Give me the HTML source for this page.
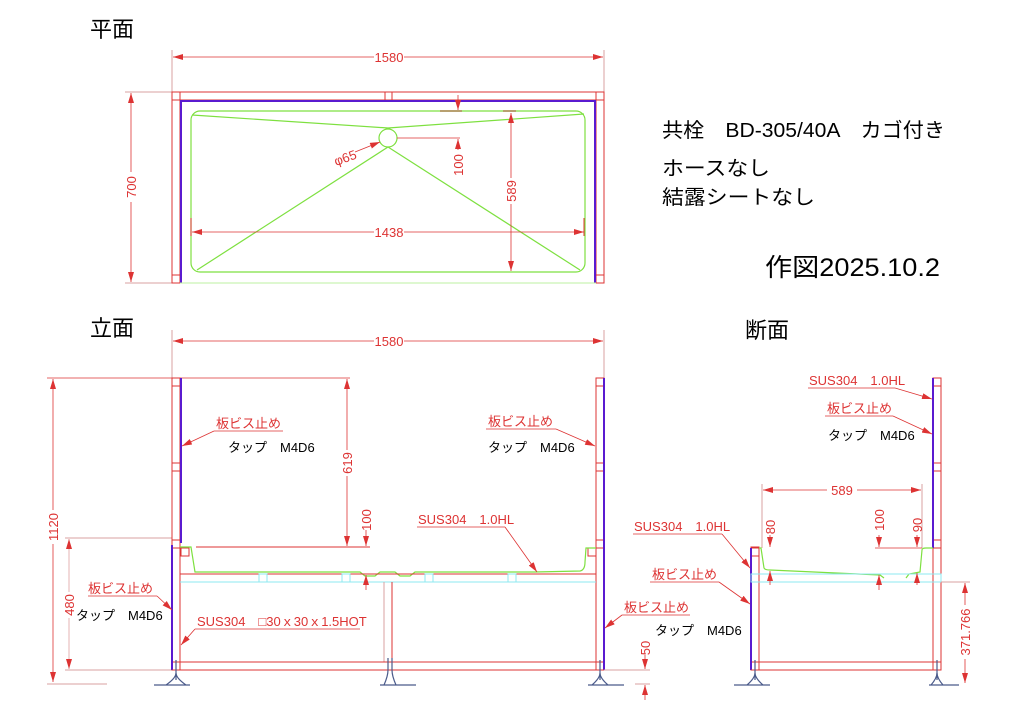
<!DOCTYPE html>
<html><head><meta charset="utf-8"><style>
html,body{margin:0;padding:0;background:#fff}
svg{display:block}
text{font-family:"Liberation Sans","Noto Sans CJK JP",sans-serif}
.r{stroke:#d33;fill:none;stroke-width:1}
.p{stroke:#d9a0a0;fill:none;stroke-width:1}
.d{stroke:#d33;stroke-width:0.8;fill:none}
.g{stroke:#7ee040;fill:none;stroke-width:1.2}
.pu{stroke:#5a1ad0;stroke-width:2;fill:none}
.c{stroke:#8ee8f0;fill:none;stroke-width:1}
.t{fill:#d33;font-size:13px}
.k{fill:#000;font-size:13px}
.b{stroke:#4a5a8a;fill:none;stroke-width:1.2}
</style></head><body>
<svg width="1012" height="715" viewBox="0 0 1012 715" xmlns="http://www.w3.org/2000/svg">
<defs><marker id="a" viewBox="0 0 10 6" refX="10" refY="3" markerWidth="10" markerHeight="6" orient="auto-start-reverse" markerUnits="userSpaceOnUse"><path d="M0,0L10,3L0,6z" fill="#d33"/></marker></defs>

<!-- titles -->
<text x="90" y="37" font-size="22" fill="#000">平面</text>
<text x="90" y="336" font-size="22" fill="#000">立面</text>
<text x="745" y="338" font-size="22" fill="#000">断面</text>
<text x="662" y="137" font-size="20" fill="#000" textLength="283" lengthAdjust="spacingAndGlyphs">共栓　BD-305/40A　カゴ付き</text>
<text x="662" y="175" font-size="20" fill="#000" textLength="108" lengthAdjust="spacingAndGlyphs">ホースなし</text>
<text x="662" y="204" font-size="20" fill="#000" textLength="153" lengthAdjust="spacingAndGlyphs">結露シートなし</text>
<text x="765" y="276" font-size="25" fill="#000" textLength="175" lengthAdjust="spacingAndGlyphs">作図2025.10.2</text>

<!-- PLAN -->
<line class="p" x1="172" y1="50" x2="172" y2="92"/><line class="p" x1="604" y1="50" x2="604" y2="92"/>
<line class="d" x1="173" y1="57" x2="603" y2="57" marker-start="url(#a)" marker-end="url(#a)"/>
<rect x="374" y="50" width="30" height="14" fill="#fff"/><text class="t" x="389" y="62" text-anchor="middle">1580</text>
<line class="p" x1="125" y1="92" x2="172" y2="92"/><line class="p" x1="125" y1="283" x2="172" y2="283"/>
<line class="d" x1="131" y1="93" x2="131" y2="282" marker-start="url(#a)" marker-end="url(#a)"/>
<rect x="124" y="172" width="14" height="30" fill="#fff"/><text class="t" transform="translate(136,187) rotate(-90)" text-anchor="middle">700</text>
<rect class="r" x="172" y="92" width="432" height="191"/>
<line class="r" x1="172" y1="100" x2="604" y2="100"/>
<rect class="r" x="172" y="92" width="8" height="8"/><rect class="r" x="596" y="92" width="8" height="8"/>
<rect class="r" x="385" y="92" width="7" height="8"/>
<rect class="r" x="172" y="275" width="8" height="8"/><rect class="r" x="596" y="275" width="8" height="8"/>
<line class="r" x1="180" y1="100" x2="180" y2="283"/><line class="r" x1="596" y1="100" x2="596" y2="283"/>
<path class="pu" d="M181,283V101H595V283"/>
<line x1="180" y1="283" x2="596" y2="283" stroke="#bdf0a0"/>
<rect class="g" x="191" y="111" width="394" height="161" rx="9"/>
<path class="g" d="M192,115L388,128L584,114" stroke-width="1"/>
<circle class="g" cx="388" cy="138" r="9"/>
<path class="g" d="M388,147L197,270M388,147L580,270" stroke-width="1"/>
<line x1="440" y1="111" x2="462" y2="111" stroke="#b8a070" stroke-width="2"/>
<line x1="503" y1="111" x2="516" y2="111" stroke="#b8a070" stroke-width="2"/>
<line class="d" x1="458" y1="95" x2="458" y2="110" marker-end="url(#a)"/>
<line class="d" x1="397" y1="138" x2="460" y2="138"/>
<line class="d" x1="458" y1="150" x2="458" y2="139" marker-end="url(#a)"/>
<text class="t" transform="translate(463,165) rotate(-90)" text-anchor="middle">100</text>
<line class="d" x1="511" y1="113" x2="511" y2="271" marker-start="url(#a)" marker-end="url(#a)"/>
<rect x="504" y="178" width="14" height="26" fill="#fff"/><text class="t" transform="translate(516,191) rotate(-90)" text-anchor="middle">589</text>
<line class="d" x1="192" y1="232" x2="584" y2="232" marker-start="url(#a)" marker-end="url(#a)"/>
<line class="r" x1="191" y1="218" x2="191" y2="236"/><line class="r" x1="584" y1="218" x2="584" y2="236"/>
<rect x="374" y="225" width="30" height="14" fill="#fff"/><text class="t" x="389" y="237" text-anchor="middle">1438</text>
<line class="d" x1="355" y1="152" x2="380" y2="142" marker-end="url(#a)"/>
<text class="t" transform="translate(336,166) rotate(-20)" font-size="15">φ65</text>

<!-- ELEVATION -->
<line class="p" x1="172" y1="330" x2="172" y2="378"/><line class="p" x1="604" y1="330" x2="604" y2="378"/>
<line class="d" x1="173" y1="341" x2="603" y2="341" marker-start="url(#a)" marker-end="url(#a)"/>
<rect x="374" y="334" width="30" height="14" fill="#fff"/><text class="t" x="389" y="346" text-anchor="middle">1580</text>
<line class="d" x1="47" y1="378" x2="350" y2="378"/>
<line class="d" x1="53" y1="379" x2="53" y2="682" marker-start="url(#a)" marker-end="url(#a)"/>
<line class="p" x1="47" y1="684" x2="107" y2="684"/>
<rect x="46" y="510" width="14" height="34" fill="#fff"/><text class="t" transform="translate(58,527) rotate(-90)" text-anchor="middle">1120</text>
<line class="p" x1="65" y1="538" x2="172" y2="538"/><line class="p" x1="65" y1="670" x2="172" y2="670"/>
<line class="d" x1="69" y1="539" x2="69" y2="669" marker-start="url(#a)" marker-end="url(#a)" style="stroke:#e0a0a0"/>
<rect x="62" y="592" width="14" height="26" fill="#fff"/><text class="t" transform="translate(74,605) rotate(-90)" text-anchor="middle">480</text>
<!-- left post -->
<rect class="r" x="172" y="378" width="8" height="292"/>
<rect class="r" x="172" y="378" width="8" height="8"/><rect class="r" x="172" y="463" width="8" height="8"/><rect class="r" x="172" y="540" width="8" height="8"/><rect class="r" x="172" y="662" width="8" height="8"/>
<line class="pu" x1="181" y1="378" x2="181" y2="543"/><line class="pu" x1="172" y1="545" x2="172" y2="670" stroke-width="1.5"/>
<rect class="r" x="181" y="548" width="8" height="8"/>
<!-- right post -->
<rect class="r" x="596" y="378" width="8" height="292"/>
<rect class="r" x="596" y="378" width="8" height="8"/><rect class="r" x="596" y="463" width="8" height="8"/><rect class="r" x="596" y="540" width="8" height="8"/><rect class="r" x="596" y="662" width="8" height="8"/>
<line class="pu" x1="604" y1="378" x2="604" y2="670"/>
<rect class="r" x="588" y="548" width="8" height="8"/>
<!-- sink -->
<line class="r" x1="196" y1="547" x2="370" y2="547"/>
<path class="g" d="M180,547H191L195,572H360L365,576H375L380,572H395L400,576H410L415,572H535L580,571Q585,570 585,562L586,548H596"/>
<line class="r" x1="180" y1="574" x2="596" y2="574"/>
<line class="c" x1="180" y1="582" x2="596" y2="582"/>
<rect class="c" x="259" y="574" width="8" height="8"/><rect class="c" x="342" y="574" width="8" height="8"/><rect class="c" x="425" y="574" width="8" height="8"/><rect class="c" x="508" y="574" width="8" height="8"/>
<line class="p" x1="384" y1="582" x2="384" y2="662"/><line class="r" x1="392" y1="582" x2="392" y2="662"/>
<line class="r" x1="180" y1="662" x2="596" y2="662"/><line class="r" x1="172" y1="670" x2="604" y2="670"/>
<!-- feet -->
<g class="b"><path d="M154,685H190M166,685Q176,678 176,673Q176,678 186,685" /><line x1="176" y1="660" x2="176" y2="680"/>
<path d="M380,685H416M384,685Q388,676 388,670M392,670Q392,676 396,685M388,658V670M392,658V670"/>
<path d="M588,685H624M592,685Q600,678 600,673Q600,678 608,685"/><line x1="600" y1="660" x2="600" y2="680"/></g>
<!-- 619 / 100 dims -->
<line class="d" x1="347" y1="379" x2="347" y2="546" marker-start="url(#a)" marker-end="url(#a)"/>
<rect x="340" y="450" width="14" height="26" fill="#fff"/><text class="t" transform="translate(352,463) rotate(-90)" text-anchor="middle">619</text>
<line class="d" x1="366" y1="530" x2="366" y2="546" marker-end="url(#a)"/>
<line class="d" x1="366" y1="590" x2="366" y2="575" marker-end="url(#a)"/>
<text class="t" transform="translate(371,520) rotate(-90)" text-anchor="middle">100</text>
<!-- labels -->
<text class="t" x="216" y="428">板ビス止め</text><line class="d" x1="214" y1="431" x2="283" y2="431"/>
<line class="d" x1="214" y1="431" x2="182" y2="446" marker-end="url(#a)"/>
<text class="k" x="228" y="452">タップ　M4D6</text>
<text class="t" x="88" y="593">板ビス止め</text><line class="d" x1="88" y1="596" x2="157" y2="596"/>
<line class="d" x1="157" y1="596" x2="172" y2="610" marker-end="url(#a)"/>
<text class="k" x="76" y="620">タップ　M4D6</text>
<text class="t" x="197" y="626">SUS304　□30ｘ30ｘ1.5HOT</text><line class="d" x1="195" y1="629" x2="360" y2="629"/>
<line class="d" x1="195" y1="629" x2="181" y2="645" marker-end="url(#a)"/>
<text class="t" x="488" y="426">板ビス止め</text><line class="d" x1="486" y1="429" x2="556" y2="429"/>
<line class="d" x1="556" y1="429" x2="595" y2="446" marker-end="url(#a)"/>
<text class="k" x="488" y="452">タップ　M4D6</text>
<text class="t" x="418" y="524">SUS304　1.0HL</text><line class="d" x1="417" y1="527" x2="505" y2="527"/>
<line class="d" x1="505" y1="527" x2="537" y2="572" marker-end="url(#a)"/>
<text class="t" x="624" y="612">板ビス止め</text><line class="d" x1="622" y1="615" x2="690" y2="615"/>
<line class="d" x1="622" y1="615" x2="605" y2="628" marker-end="url(#a)"/>
<text class="k" x="655" y="635">タップ　M4D6</text>
<line class="p" x1="604" y1="670" x2="650" y2="670"/><line class="p" x1="635" y1="684" x2="650" y2="684"/>
<line class="d" x1="645" y1="655" x2="645" y2="669" marker-end="url(#a)"/>
<line class="d" x1="645" y1="700" x2="645" y2="685" marker-end="url(#a)"/>
<text class="t" transform="translate(650,648) rotate(-90)" text-anchor="middle">50</text>

<!-- SECTION -->
<rect class="r" x="751" y="547" width="8" height="123"/>
<rect class="r" x="751" y="548" width="8" height="8"/><rect class="r" x="751" y="662" width="8" height="8"/>
<line class="pu" x1="751" y1="548" x2="751" y2="670" stroke-width="1.5"/>
<rect class="r" x="933" y="378" width="8" height="292"/>
<rect class="r" x="933" y="378" width="8" height="8"/><rect class="r" x="933" y="463" width="8" height="8"/><rect class="r" x="933" y="540" width="8" height="8"/><rect class="r" x="933" y="662" width="8" height="8"/>
<line class="pu" x1="933" y1="378" x2="933" y2="548" stroke-width="1.5"/>
<path class="g" d="M759,548H761L764,568Q765,570 770,570L880,575L884,578M906,578L909,574L920,572L922,550Q922,548 926,548H933"/>
<rect class="c" x="751" y="574" width="190" height="8"/>
<line class="r" x1="759" y1="662" x2="933" y2="662"/><line class="r" x1="751" y1="670" x2="941" y2="670"/>
<g class="b"><path d="M734,685H770M747,685Q755,678 755,673Q755,678 763,685"/><line x1="755" y1="660" x2="755" y2="680"/>
<path d="M929,685H959M931,685Q937,678 937,673Q937,678 943,685"/><line x1="937" y1="660" x2="937" y2="680"/></g>
<line class="p" x1="762" y1="484" x2="762" y2="548"/><line class="p" x1="922" y1="484" x2="922" y2="548"/>
<line class="d" x1="763" y1="490" x2="921" y2="490" marker-start="url(#a)" marker-end="url(#a)"/>
<rect x="827" y="483" width="30" height="14" fill="#fff"/><text class="t" x="842" y="495" text-anchor="middle">589</text>
<line class="d" x1="770" y1="535" x2="770" y2="547" marker-end="url(#a)"/>
<line class="d" x1="770" y1="585" x2="770" y2="571" marker-end="url(#a)"/>
<text class="t" transform="translate(775,527) rotate(-90)" text-anchor="middle">80</text>
<line class="d" x1="875" y1="548" x2="922" y2="548"/>
<line class="d" x1="879" y1="535" x2="879" y2="547" marker-end="url(#a)"/>
<line class="d" x1="879" y1="590" x2="879" y2="575" marker-end="url(#a)"/>
<text class="t" transform="translate(884,520) rotate(-90)" text-anchor="middle">100</text>
<line class="d" x1="917" y1="535" x2="917" y2="547" marker-end="url(#a)"/>
<line class="d" x1="917" y1="585" x2="917" y2="573" marker-end="url(#a)"/>
<text class="t" transform="translate(922,525) rotate(-90)" text-anchor="middle">90</text>
<line class="p" x1="941" y1="582" x2="970" y2="582"/>
<line class="d" x1="965" y1="583" x2="965" y2="683" marker-start="url(#a)" marker-end="url(#a)"/>
<rect x="958" y="605" width="14" height="54" fill="#fff"/><text class="t" transform="translate(970,632) rotate(-90)" text-anchor="middle">371.766</text>
<text class="t" x="809" y="385">SUS304　1.0HL</text><line class="d" x1="808" y1="388" x2="895" y2="388"/>
<line class="d" x1="895" y1="388" x2="932" y2="399" marker-end="url(#a)"/>
<text class="t" x="827" y="413">板ビス止め</text><line class="d" x1="825" y1="416" x2="893" y2="416"/>
<line class="d" x1="893" y1="416" x2="932" y2="434" marker-end="url(#a)"/>
<text class="k" x="828" y="440">タップ　M4D6</text>
<text class="t" x="634" y="531">SUS304　1.0HL</text><line class="d" x1="633" y1="534" x2="722" y2="534"/>
<line class="d" x1="722" y1="534" x2="750" y2="568" marker-end="url(#a)"/>
<text class="t" x="652" y="579">板ビス止め</text><line class="d" x1="650" y1="582" x2="719" y2="582"/>
<line class="d" x1="719" y1="582" x2="750" y2="604" marker-end="url(#a)"/>
</svg>
</body></html>
